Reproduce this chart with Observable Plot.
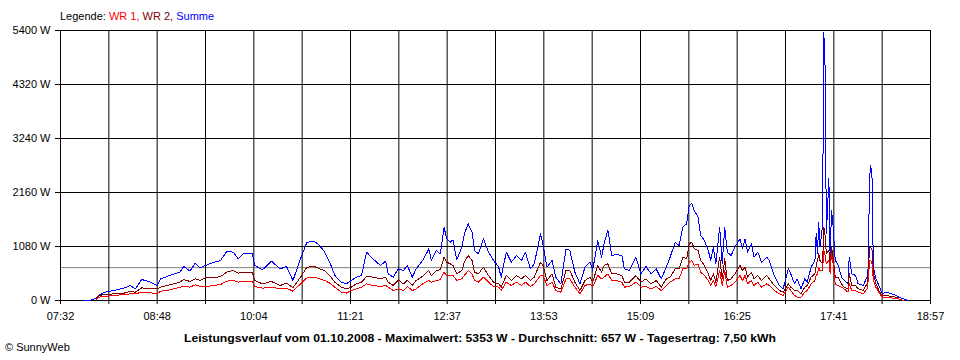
<!DOCTYPE html>
<html><head><meta charset="utf-8">
<script src="https://cdn.jsdelivr.net/npm/d3@7"></script>
<script src="https://cdn.jsdelivr.net/npm/@observablehq/plot@0.6"></script>
<style>
html,body{margin:0;padding:0;background:#fff;}
#wrap{position:relative;width:960px;height:360px;overflow:hidden;font-family:"Liberation Sans",Arial,sans-serif;font-size:11px;color:#000;}
#chart{position:absolute;left:0;top:0;}
#overlay{position:absolute;left:0;top:0;pointer-events:none;}
</style></head><body>
<div id="wrap"><div id="chart"></div>
<svg id="overlay" width="960" height="360" font-family="Liberation Sans, Arial, sans-serif" font-size="11"></svg>
</div>
<script>
// ---- data (time in minutes after midnight, power in W) ----
const times = [
  470, 476, 480, 482, 487, 494, 502, 507,
  511, 516, 523, 528, 531, 538, 546, 549,
  554, 558, 562, 566, 573, 578, 583, 588,
  592, 596, 603, 605, 611, 618, 625, 630,
  635, 641, 646, 652, 656, 660, 664, 668,
  673, 677, 681, 685, 689, 693, 698, 704,
  708, 710, 714, 718, 722, 725, 729, 732,
  738, 742, 744, 748, 751, 754, 756, 759,
  761, 764, 768, 770, 773, 776, 778, 781,
  785, 789, 793, 797, 799, 803, 807, 811,
  815, 818, 822, 825, 830, 832, 835, 839,
  842, 846, 850, 853, 857, 861, 865, 869,
  871, 875, 878, 880, 883, 886, 890, 894,
  896, 900, 905, 909, 913, 917, 921, 925,
  929, 932,
  936, 939, 942, 945, 947, 949, 951, 954,
  956, 959, 962, 964, 966, 968, 971, 973,
  975, 977, 980, 983, 987, 989, 991, 993,
  996, 998, 1001, 1004, 1008, 1010, 1014,
  1018, 1021, 1025, 1027, 1030, 1032, 1035, 1038,
  1040, 1043, 1046, 1047, 1048, 1049, 1050, 1052,
  1053, 1054, 1055, 1057, 1058, 1059, 1060, 1062,
  1064, 1067, 1069, 1072, 1073, 1075, 1078, 1080,
  1084, 1087, 1088, 1089, 1090, 1091, 1092, 1094,
  1097, 1099, 1102, 1106, 1110, 1112, 1116, 1119
];
const summe = [
  0, 10, 40, 100, 167, 200, 247, 300,
  233, 420, 367, 300, 433, 500, 567, 680,
  587, 747, 653, 700, 767, 800, 987, 967,
  833, 933, 947, 700, 613, 787, 633, 680,
  400, 833, 1167, 1180, 1100, 967, 767, 500,
  367, 333, 400, 467, 500, 967, 833, 700,
  787, 533, 467, 633, 600, 700, 467, 633,
  833, 1033, 800, 1000, 933, 1467, 1233, 1167,
  1213, 813, 1067, 1333, 1533, 1367, 1000, 933,
  1233, 967, 800, 667, 467, 967, 767, 900,
  800, 967, 633, 733, 1333, 1100, 667, 800,
  467, 333, 1033, 1000, 567, 333, 667, 767,
  600, 1200, 867, 1133, 1413, 900, 920, 900,
  633, 600, 867, 533, 680, 533, 633, 433,
  667, 867,
  1167, 1100, 1467, 1533, 1900, 1947, 1800, 1667,
  1300, 1200, 1000, 800, 1067, 733, 1467, 733,
  1467, 967, 900, 1067, 1233, 1033, 1233, 967,
  1133, 867, 967, 767, 867, 800, 500,
  300, 233, 633, 533, 333, 433, 233, 433,
  367, 667, 800, 1333, 933, 1567, 1067, 1500,
  5353, 4667, 1333, 2433, 800, 1800, 1600, 800,
  733, 467, 400, 333, 867, 533, 500, 333,
  300, 467, 667, 2467, 2700, 2433, 667, 433,
  267, 133, 167, 133, 100, 67, 33, 0
];
const wr2 = [
  null, null, 20, 100, 120, 133, 147, 180,
  167, 253, 233, 233, 267, 313, 367, 420,
  380, 433, 400, 453, 453, 480, 567, 600,
  547, 567, 567, 400, 333, 380, 300, 347,
  253, 467, 667, 680, 633, 600, 500, 367,
  267, 233, 267, 333, 367, 480, 467, 433,
  467, 367, 300, 413, 333, 400, 300, 400,
  500, 600, 500, 600, 613, 867, 767, 733,
  700, 533, 600, 767, 900, 800, 567, 533,
  667, 500, 367, 333, 267, 500, 400, 500,
  433, 500, 400, 467, 767, 700, 400, 533,
  267, 233, 600, 600, 367, 200, 400, 467,
  367, 700, 567, 700, 733, 533, 533, 500,
  367, 367, 500, 367, 433, 333, 400, 267,
  433, 467,
  633, 633, 867, 833, 1133, 1167, 1033, 1000,
  800, 700, 533, 400, 533, 367, 867, 433,
  833, 400, 433, 533, 700, 600, 667, 467,
  567, 433, 500, 400, 500, 433, 300,
  200, 167, 333, 267, 200, 200, 133, 267,
  300, 467, 533, 700, 800, 933, 800, 733,
  1467, 1300, 933, 1000, 667, 1067, 933, 467,
  467, 333, 267, 233, 533, 300, 300, 233,
  200, 333, 533, 1067, 1067, 1000, 533, 333,
  167, 100, 100, 80, 67, 33, 0, null
];
const wr1 = [
  null, null, 15, 67, 80, 100, 120, 133,
  133, 167, 153, 133, 187, 213, 267, 280,
  267, 313, 280, 280, 300, 320, 387, 400,
  367, 387, 387, 280, 247, 267, 233, 247,
  187, 333, 453, 467, 433, 400, 347, 267,
  167, 147, 200, 233, 267, 333, 300, 280,
  300, 267, 200, 233, 200, 280, 200, 233,
  347, 400, 367, 400, 413, 567, 500, 500,
  500, 400, 433, 500, 600, 533, 400, 367,
  467, 367, 280, 267, 200, 367, 300, 367,
  300, 367, 280, 333, 500, 500, 300, 367,
  200, 167, 433, 433, 267, 133, 300, 333,
  267, 500, 433, 467, 533, 400, 400, 367,
  267, 280, 367, 267, 280, 233, 280, 200,
  300, 367,
  433, 433, 633, 633, 767, 800, 700, 733,
  567, 500, 400, 300, 400, 267, 600, 300,
  600, 267, 300, 367, 500, 400, 500, 333,
  400, 300, 367, 267, 333, 300, 200,
  133, 100, 267, 200, 100, 67, 67, 167,
  200, 333, 400, 500, 533, 667, 600, 600,
  1000, 900, 733, 800, 533, 933, 800, 333,
  300, 267, 233, 167, 333, 200, 200, 167,
  133, 233, 400, 800, 800, 733, 400, 267,
  133, 67, 67, 53, 40, 30, 0, null
];
const seriesNames = ["WR 1", "WR 2", "Summe"];
const seriesColors = ["#ff0000", "#800000", "#0000ff"];
const xTickLabels = ["07:32","08:48","10:04","11:21","12:37","13:53","15:09","16:25","17:41","18:57"];
const xStart = 452, xEnd = 1137; // 07:32 .. 18:57
const yTicks = [0, 1080, 2160, 3240, 4320, 5400];
const average = 657;
const maximum = 5353;
const dateText = "01.10.2008";
const dailyYield = "7,50";

// ---- build ----
const n = times.length;
if (summe.length !== n || wr1.length !== n || wr2.length !== n) {
  document.body.insertAdjacentHTML("afterbegin", `<p style="color:red">length mismatch ${n} ${summe.length} ${wr2.length} ${wr1.length}</p>`);
}
const toRows = arr => times.map((t, i) => ({t, v: arr[i]}));
const nIntervals = xTickLabels.length - 1;
const xGrid = d3.range(nIntervals * 2 + 1).map(i => xStart + i * (xEnd - xStart) / (nIntervals * 2));
const labelMap = new Map(xGrid.map((p, i) => [p, i % 2 === 0 ? xTickLabels[i / 2] : ""]));

const chart = Plot.plot({
  width: 960, height: 360,
  marginTop: 30, marginRight: 30, marginBottom: 60, marginLeft: 60,
  style: {fontFamily: "Liberation Sans, Arial, sans-serif", fontSize: "11px", color: "#000", background: "#fff", overflow: "visible"},
  x: {domain: [xStart, xEnd], label: null},
  y: {domain: [0, 5400], label: null},
  marks: [
    Plot.ruleY([average], {stroke: "#808080", strokeWidth: 1}),
    Plot.ruleX(xGrid, {stroke: "#000", strokeWidth: 1}),
    Plot.ruleY(yTicks, {stroke: "#000", strokeWidth: 1}),
    Plot.line(toRows(summe), {x: "t", y: "v", stroke: seriesColors[2], strokeWidth: 1, shapeRendering: "crispEdges"}),
    Plot.line(toRows(wr2), {x: "t", y: "v", stroke: seriesColors[1], strokeWidth: 1, shapeRendering: "crispEdges"}),
    Plot.line(toRows(wr1), {x: "t", y: "v", stroke: seriesColors[0], strokeWidth: 1, shapeRendering: "crispEdges"}),
    Plot.axisY({ticks: yTicks, tickFormat: d => `${d} W`, tickSize: 5, tickPadding: 5, stroke: "#000"}),
    Plot.axisX({ticks: xGrid, tickFormat: d => labelMap.get(d) ?? "", tickSize: 4, tickPadding: 8, stroke: "#000"})
  ]
});
document.getElementById("chart").append(chart);

// ---- texts ----
const ov = d3.select("#overlay");
const leg = ov.append("text").attr("x", 60).attr("y", 20).attr("fill", "#000");
leg.append("tspan").text("Legende: ");
seriesNames.forEach((s, i) => {
  leg.append("tspan").attr("fill", seriesColors[i]).text(s + (i < seriesNames.length - 1 ? ", " : ""));
});
ov.append("text").attr("x", 480).attr("y", 342).attr("text-anchor", "middle")
  .attr("font-weight", "bold").attr("textLength", 592).attr("lengthAdjust", "spacingAndGlyphs")
  .text(`Leistungsverlauf vom ${dateText} - Maximalwert: ${maximum} W - Durchschnitt: ${average} W - Tagesertrag: ${dailyYield} kWh`);
ov.append("text").attr("x", 5).attr("y", 351).text("© SunnyWeb");
</script>
</body></html>
